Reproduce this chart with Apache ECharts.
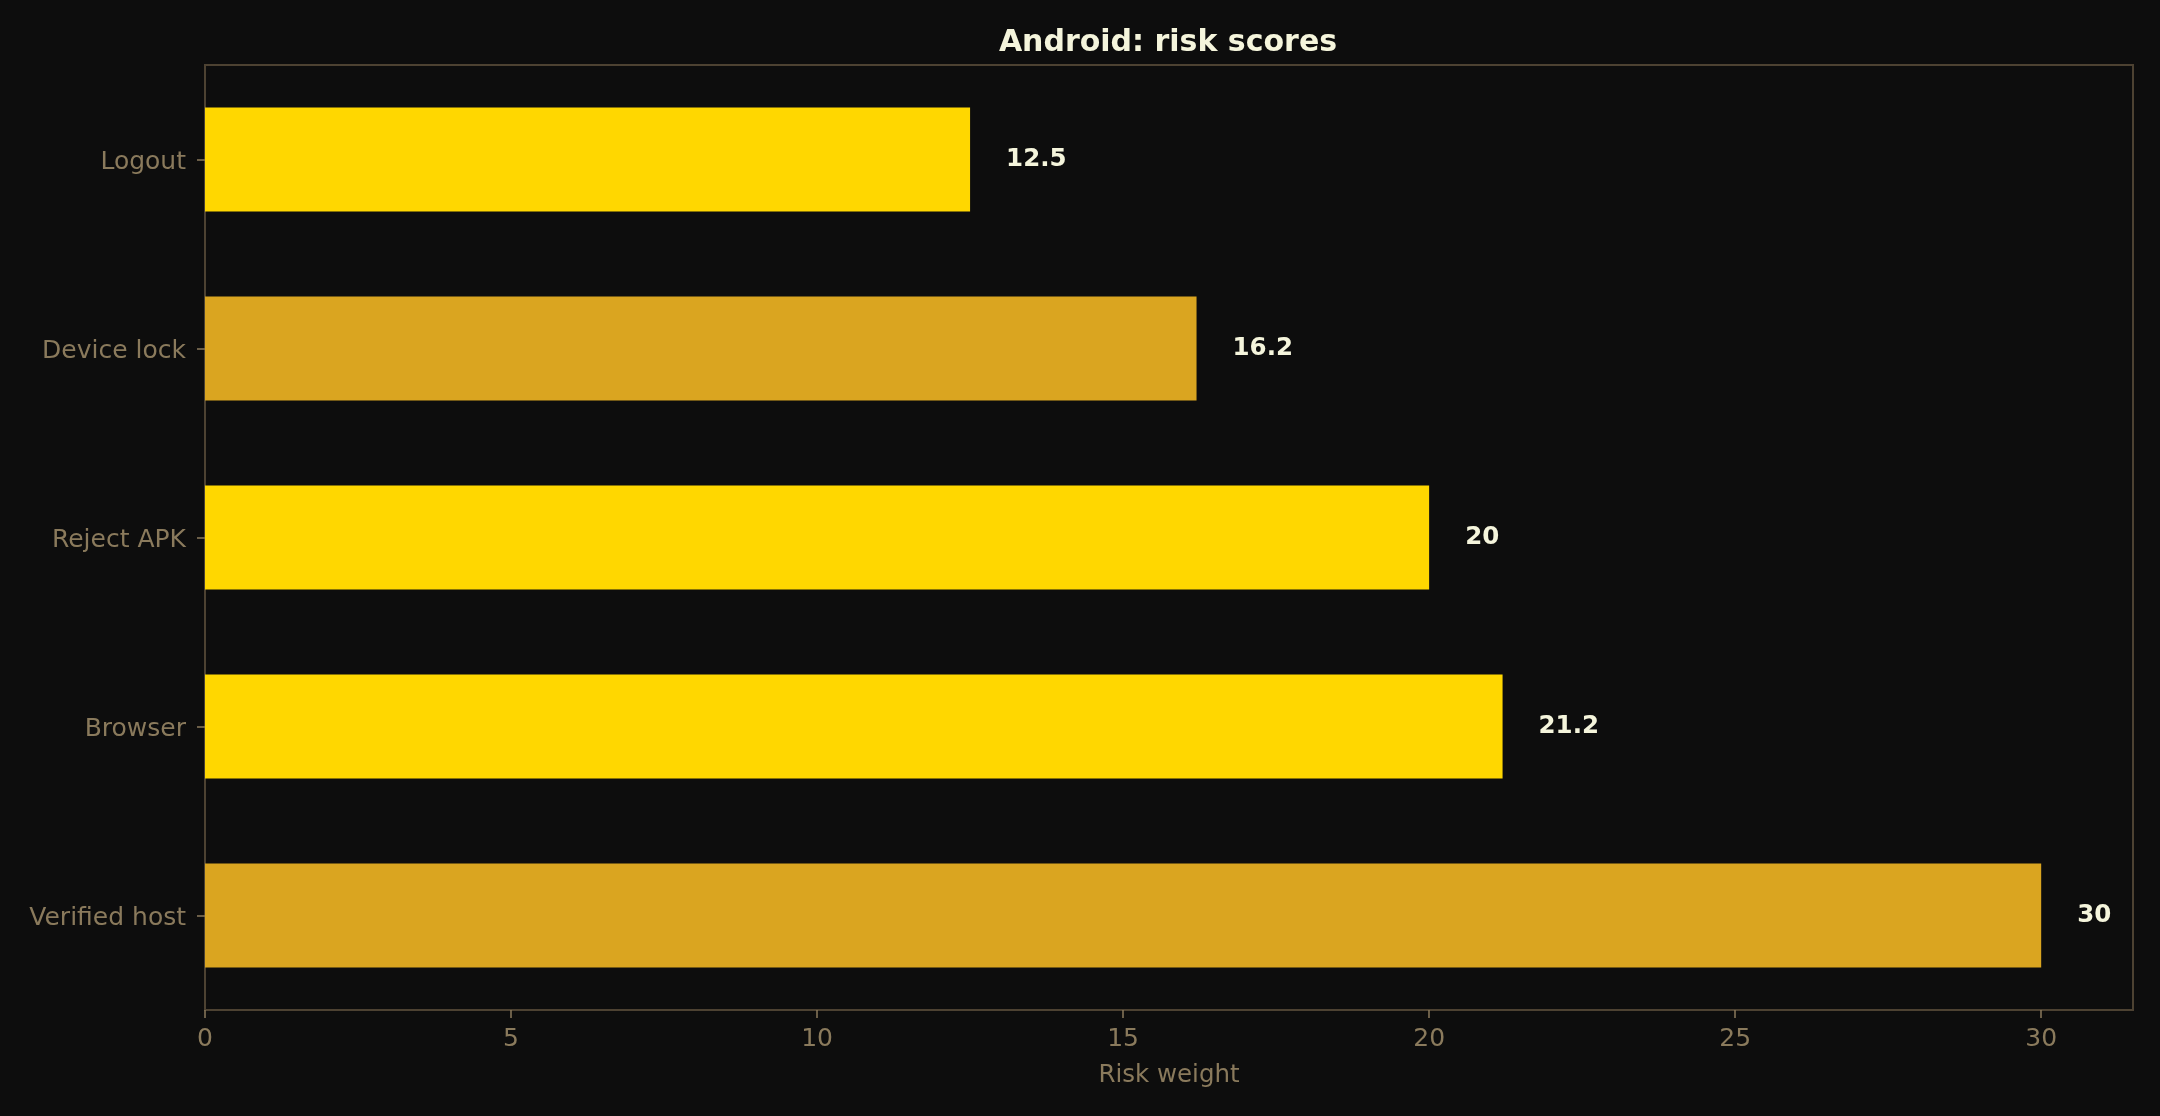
<!DOCTYPE html>
<html>
<head>
<meta charset="utf-8">
<script src="https://cdn.jsdelivr.net/npm/echarts@6/dist/echarts.min.js"></script>
<style>
html,body{margin:0;padding:0;background:#0d0d0d;}
#chart{width:2160px;height:1116px;}
</style>
</head>
<body>
<div id="chart"></div>
<script>
// Categories listed top to bottom as in the picture
const categories = ["Logout", "Device lock", "Reject APK", "Browser", "Verified host"];
const riskValues = [12.5, 16.2, 20, 21.2, 30];
const barColors = ["#FFD700", "#DAA520", "#FFD700", "#FFD700", "#DAA520"];
const xTicks = [0, 5, 10, 15, 20, 25, 30];

const FONT = "DejaVu Sans";
const spine = "#4d4232";
const tickText = "#8a7a5c";
const cream = "#f5f5dc";

const chart = echarts.init(document.getElementById('chart'), null, {renderer: 'canvas'});
chart.setOption({
  backgroundColor: "#0d0d0d",
  animation: false,
  title: {
    text: "Android: risk scores",
    left: 1163,
    textAlign: 'center',
    top: 23,
    textStyle: {color: cream, fontFamily: FONT, fontWeight: 'bold', fontSize: 30}
  },
  grid: {
    left: 205, right: 27, top: 65, bottom: 106,
    show: true, borderColor: spine, borderWidth: 2, backgroundColor: 'transparent'
  },
  xAxis: {
    type: 'value',
    min: 0, max: 31.5, interval: 5,
    name: "Risk weight",
    nameLocation: 'middle',
    nameGap: 53,
    nameTextStyle: {color: tickText, fontFamily: FONT, fontSize: 24.5},
    axisLine: {show: false},
    axisTick: {show: true, length: 8, lineStyle: {color: tickText, width: 1.5}},
    splitLine: {show: false},
    axisLabel: {
      color: tickText, fontFamily: FONT, fontSize: 25, margin: 17,
      showMaxLabel: false,
      formatter: function (v) { return xTicks.indexOf(v) >= 0 ? String(v) : ''; }
    }
  },
  yAxis: {
    type: 'category',
    data: categories,
    inverse: true,
    axisLine: {show: false},
    axisTick: {show: true, alignWithLabel: true, length: 8, lineStyle: {color: tickText, width: 1.5}},
    axisLabel: {
      margin: 19,
      formatter: function (v) { return '{c|' + v + '}'; },
      rich: {c: {color: tickText, fontFamily: FONT, fontSize: 25, padding: [6, 0, 0, 0]}}
    }
  },
  series: [{
    type: 'bar',
    barWidth: '55%',
    data: riskValues.map(function (v, i) {
      return {value: v, itemStyle: {color: barColors[i]}};
    }),
    label: {
      show: true,
      position: 'right',
      distance: 36,
      color: cream,
      fontFamily: FONT,
      fontWeight: 'bold',
      fontSize: 24.5
    }
  }]
});
</script>
</body>
</html>
